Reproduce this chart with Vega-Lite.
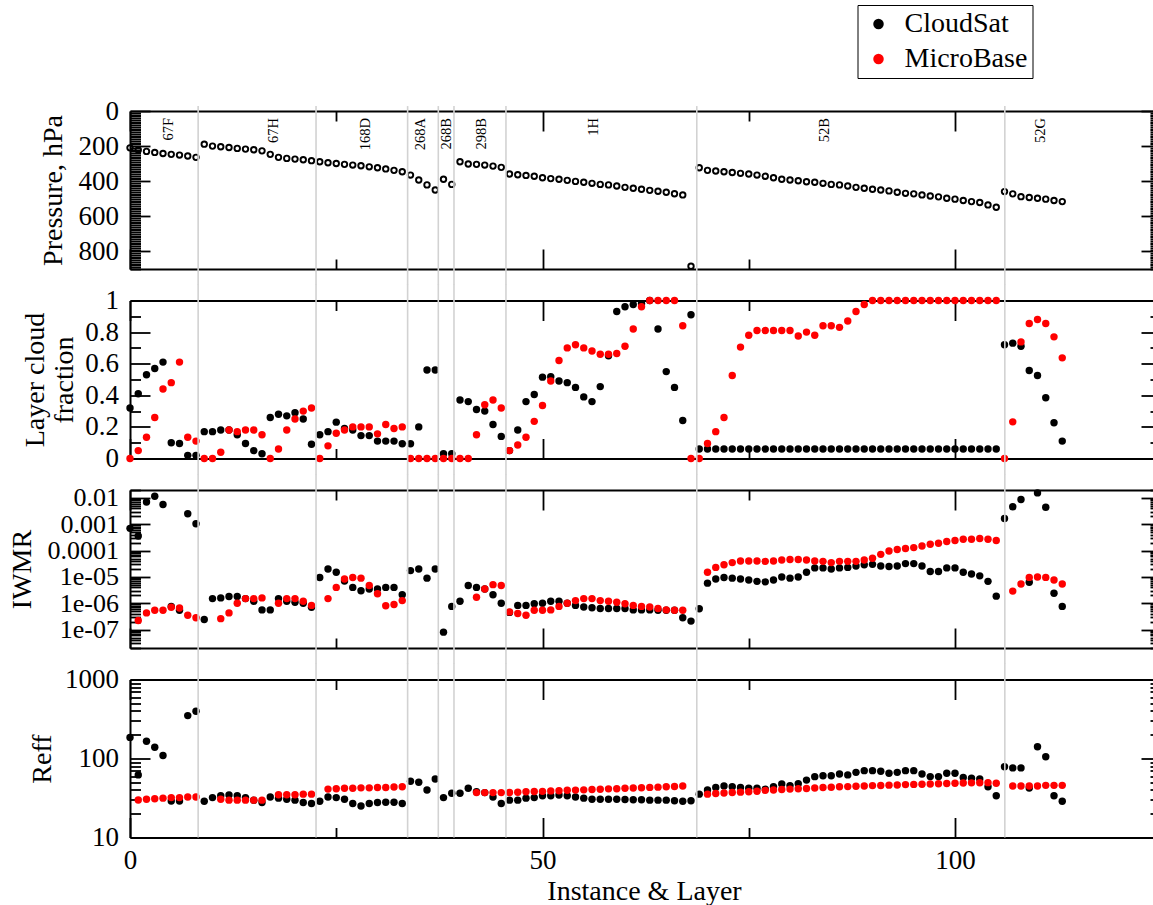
{
  "$schema": "https://vega.github.io/schema/vega-lite/v6.json",
  "padding": {"left": 8, "top": 4, "right": 0, "bottom": 0},
  "background": "white",
  "spacing": 31.5,
  "bounds": "flush",
  "config": {
    "font": "Liberation Serif",
    "view": {"stroke": null},
    "axis": {
      "labelFont": "Liberation Serif", "labelFontSize": 27, "labelColor": "black",
      "titleFont": "Liberation Serif", "titleFontSize": 28, "titleFontWeight": "normal", "titleColor": "black",
      "domain": true, "domainColor": "black", "domainWidth": 2, "tickColor": "black", "tickWidth": 1.8,
      "grid": false, "labelOverlap": false, "labelFlush": false, "labelBound": false
    }
  },
  "datasets": {
    "bounds": [{"b": 8.26}, {"b": 22.55}, {"b": 33.65}, {"b": 37.37}, {"b": 39.27}, {"b": 45.57}, {"b": 68.7}, {"b": 106.04}],
    "segs": [{"seg": "67F", "x": 4.7}, {"seg": "67H", "x": 17.4}, {"seg": "168D", "x": 28.6}, {"seg": "268A", "x": 35.3}, {"seg": "268B", "x": 38.4}, {"seg": "298B", "x": 42.7}, {"seg": "1H", "x": 56.2}, {"seg": "52B", "x": 84.2}, {"seg": "52G", "x": 110.4}],
    "pres": [
      {"x":0,"p":210},{"x":1,"p":222},{"x":2,"p":230},{"x":3,"p":236},{"x":4,"p":242},{"x":5,"p":247},{"x":6,"p":251},{"x":7,"p":256},{"x":8,"p":264},
      {"x":9,"p":189},{"x":10,"p":200},{"x":11,"p":204},{"x":12,"p":208},{"x":13,"p":213},{"x":14,"p":217},{"x":15,"p":221},{"x":16,"p":227},{"x":17,"p":247},{"x":18,"p":264},{"x":19,"p":270},{"x":20,"p":274},{"x":21,"p":278},{"x":22,"p":283},
      {"x":23,"p":289},{"x":24,"p":295},{"x":25,"p":299},{"x":26,"p":304},{"x":27,"p":308},{"x":28,"p":312},{"x":29,"p":318},{"x":30,"p":323},{"x":31,"p":330},{"x":32,"p":338},{"x":33,"p":346},
      {"x":34,"p":365},{"x":35,"p":393},{"x":36,"p":421},{"x":37,"p":450},
      {"x":38,"p":389},{"x":39,"p":418},
      {"x":40,"p":289},{"x":41,"p":302},{"x":42,"p":304},{"x":43,"p":308},{"x":44,"p":314},{"x":45,"p":321},
      {"x":46,"p":359},{"x":47,"p":363},{"x":48,"p":367},{"x":49,"p":372},{"x":50,"p":380},{"x":51,"p":385},{"x":52,"p":389},{"x":53,"p":395},{"x":54,"p":401},{"x":55,"p":406},{"x":56,"p":412},{"x":57,"p":418},{"x":58,"p":421},{"x":59,"p":427},{"x":60,"p":435},{"x":61,"p":440},{"x":62,"p":446},{"x":63,"p":452},{"x":64,"p":457},{"x":65,"p":463},{"x":66,"p":471},{"x":67,"p":478},{"x":68,"p":884},
      {"x":69,"p":323},{"x":70,"p":338},{"x":71,"p":342},{"x":72,"p":346},{"x":73,"p":350},{"x":74,"p":355},{"x":75,"p":359},{"x":76,"p":365},{"x":77,"p":372},{"x":78,"p":380},{"x":79,"p":389},{"x":80,"p":393},{"x":81,"p":397},{"x":82,"p":403},{"x":83,"p":406},{"x":84,"p":412},{"x":85,"p":418},{"x":86,"p":421},{"x":87,"p":427},{"x":88,"p":435},{"x":89,"p":440},{"x":90,"p":446},{"x":91,"p":450},{"x":92,"p":455},{"x":93,"p":463},{"x":94,"p":469},{"x":95,"p":472},{"x":96,"p":478},{"x":97,"p":484},{"x":98,"p":489},{"x":99,"p":497},{"x":100,"p":502},{"x":101,"p":510},{"x":102,"p":516},{"x":103,"p":521},{"x":104,"p":535},{"x":105,"p":548},
      {"x":106,"p":459},{"x":107,"p":472},{"x":108,"p":488},{"x":109,"p":493},{"x":110,"p":497},{"x":111,"p":502},{"x":112,"p":510},{"x":113,"p":516}
    ],
    "frac": [
      {"x":0,"CloudSat":0.32,"MicroBase":0},{"x":1,"CloudSat":0.41,"MicroBase":0.05},{"x":2,"CloudSat":0.53,"MicroBase":0.135},{"x":3,"CloudSat":0.57,"MicroBase":0.26},{"x":4,"CloudSat":0.61,"MicroBase":0.44},{"x":5,"CloudSat":0.10,"MicroBase":0.48},{"x":6,"CloudSat":0.095,"MicroBase":0.61},{"x":7,"CloudSat":0.02,"MicroBase":0.135},{"x":8,"CloudSat":0.02,"MicroBase":0.11},
      {"x":9,"CloudSat":0.17,"MicroBase":0},{"x":10,"CloudSat":0.17,"MicroBase":0},{"x":11,"CloudSat":0.18,"MicroBase":0.04},{"x":12,"CloudSat":0.18,"MicroBase":0.18},{"x":13,"CloudSat":0.15,"MicroBase":0.17},{"x":14,"CloudSat":0.095,"MicroBase":0.18},{"x":15,"CloudSat":0.05,"MicroBase":0.18},{"x":16,"CloudSat":0.03,"MicroBase":0.15},{"x":17,"CloudSat":0.26,"MicroBase":0},{"x":18,"CloudSat":0.28,"MicroBase":0.06},{"x":19,"CloudSat":0.27,"MicroBase":0.18},{"x":20,"CloudSat":0.29,"MicroBase":0.25},{"x":21,"CloudSat":0.25,"MicroBase":0.30},{"x":22,"CloudSat":0.09,"MicroBase":0.32},
      {"x":23,"CloudSat":0.15,"MicroBase":0},{"x":24,"CloudSat":0.17,"MicroBase":0.08},{"x":25,"CloudSat":0.23,"MicroBase":0.16},{"x":26,"CloudSat":0.19,"MicroBase":0.18},{"x":27,"CloudSat":0.18,"MicroBase":0.2},{"x":28,"CloudSat":0.145,"MicroBase":0.2},{"x":29,"CloudSat":0.145,"MicroBase":0.2},{"x":30,"CloudSat":0.11,"MicroBase":0.156},{"x":31,"CloudSat":0.11,"MicroBase":0.215},{"x":32,"CloudSat":0.11,"MicroBase":0.19},{"x":33,"CloudSat":0.093,"MicroBase":0.2},
      {"x":34,"CloudSat":0.093,"MicroBase":0},{"x":35,"CloudSat":0.2,"MicroBase":0},{"x":36,"CloudSat":0.56,"MicroBase":0},{"x":37,"CloudSat":0.56,"MicroBase":0},
      {"x":38,"CloudSat":0.03,"MicroBase":0},{"x":39,"CloudSat":0.03,"MicroBase":0},
      {"x":40,"CloudSat":0.37,"MicroBase":0},{"x":41,"CloudSat":0.36,"MicroBase":0},{"x":42,"CloudSat":0.31,"MicroBase":0.15},{"x":43,"CloudSat":0.30,"MicroBase":0.34},{"x":44,"CloudSat":0.215,"MicroBase":0.37},{"x":45,"CloudSat":0.14,"MicroBase":0.32},
      {"x":46,"CloudSat":0.05,"MicroBase":0.05},{"x":47,"CloudSat":0.18,"MicroBase":0.085},{"x":48,"CloudSat":0.36,"MicroBase":0.135},{"x":49,"CloudSat":0.405,"MicroBase":0.235},{"x":50,"CloudSat":0.515,"MicroBase":0.335},{"x":51,"CloudSat":0.517,"MicroBase":0.49},{"x":52,"CloudSat":0.49,"MicroBase":0.62},{"x":53,"CloudSat":0.48,"MicroBase":0.70},{"x":54,"CloudSat":0.45,"MicroBase":0.72},{"x":55,"CloudSat":0.39,"MicroBase":0.70},{"x":56,"CloudSat":0.36,"MicroBase":0.68},{"x":57,"CloudSat":0.455,"MicroBase":0.66},{"x":58,"CloudSat":0.65,"MicroBase":0.66},{"x":59,"CloudSat":0.93,"MicroBase":0.665},{"x":60,"CloudSat":0.96,"MicroBase":0.71},{"x":61,"CloudSat":0.975,"MicroBase":0.82},{"x":62,"CloudSat":0.98,"MicroBase":0.96},{"x":63,"CloudSat":1.0,"MicroBase":1},{"x":64,"CloudSat":0.82,"MicroBase":1},{"x":65,"CloudSat":0.55,"MicroBase":1},{"x":66,"CloudSat":0.45,"MicroBase":1},{"x":67,"CloudSat":0.24,"MicroBase":0.84},{"x":68,"CloudSat":0.91,"MicroBase":0},
      {"x":69,"CloudSat":0.06,"MicroBase":0},{"x":70,"CloudSat":0.06,"MicroBase":0.095},{"x":71,"CloudSat":0.06,"MicroBase":0.17},{"x":72,"CloudSat":0.06,"MicroBase":0.26},{"x":73,"CloudSat":0.06,"MicroBase":0.525},{"x":74,"CloudSat":0.06,"MicroBase":0.705},{"x":75,"CloudSat":0.06,"MicroBase":0.78},{"x":76,"CloudSat":0.06,"MicroBase":0.81},{"x":77,"CloudSat":0.06,"MicroBase":0.81},{"x":78,"CloudSat":0.06,"MicroBase":0.81},{"x":79,"CloudSat":0.06,"MicroBase":0.81},{"x":80,"CloudSat":0.06,"MicroBase":0.81},{"x":81,"CloudSat":0.06,"MicroBase":0.775},{"x":82,"CloudSat":0.06,"MicroBase":0.80},{"x":83,"CloudSat":0.06,"MicroBase":0.78},{"x":84,"CloudSat":0.06,"MicroBase":0.84},{"x":85,"CloudSat":0.06,"MicroBase":0.84},{"x":86,"CloudSat":0.06,"MicroBase":0.83},{"x":87,"CloudSat":0.06,"MicroBase":0.87},{"x":88,"CloudSat":0.06,"MicroBase":0.93},{"x":89,"CloudSat":0.06,"MicroBase":0.975},{"x":90,"CloudSat":0.06,"MicroBase":1},{"x":91,"CloudSat":0.06,"MicroBase":1},{"x":92,"CloudSat":0.06,"MicroBase":1},{"x":93,"CloudSat":0.06,"MicroBase":1},{"x":94,"CloudSat":0.06,"MicroBase":1},{"x":95,"CloudSat":0.06,"MicroBase":1},{"x":96,"CloudSat":0.06,"MicroBase":1},{"x":97,"CloudSat":0.06,"MicroBase":1},{"x":98,"CloudSat":0.06,"MicroBase":1},{"x":99,"CloudSat":0.06,"MicroBase":1},{"x":100,"CloudSat":0.06,"MicroBase":1},{"x":101,"CloudSat":0.06,"MicroBase":1},{"x":102,"CloudSat":0.06,"MicroBase":1},{"x":103,"CloudSat":0.06,"MicroBase":1},{"x":104,"CloudSat":0.06,"MicroBase":1},{"x":105,"CloudSat":0.06,"MicroBase":1},
      {"x":106,"CloudSat":0.72,"MicroBase":0},{"x":107,"CloudSat":0.73,"MicroBase":0.232},{"x":108,"CloudSat":0.71,"MicroBase":0.738},{"x":109,"CloudSat":0.557,"MicroBase":0.854},{"x":110,"CloudSat":0.525,"MicroBase":0.88},{"x":111,"CloudSat":0.384,"MicroBase":0.854},{"x":112,"CloudSat":0.226,"MicroBase":0.77},{"x":113,"CloudSat":0.11,"MicroBase":0.637}
    ],
    "iwmr": [
      {"x":0,"CloudSat":7e-4,"MicroBase":null},{"x":1,"CloudSat":3.6e-4,"MicroBase":2.2e-7},{"x":2,"CloudSat":7e-3,"MicroBase":4.3e-7},{"x":3,"CloudSat":0.0116,"MicroBase":5.4e-7},{"x":4,"CloudSat":5.6e-3,"MicroBase":5.4e-7},{"x":5,"CloudSat":7.6e-7,"MicroBase":7.1e-7},{"x":6,"CloudSat":5.4e-7,"MicroBase":6.6e-7},{"x":7,"CloudSat":2.5e-3,"MicroBase":3.5e-7},{"x":8,"CloudSat":1.05e-3,"MicroBase":2.8e-7},
      {"x":9,"CloudSat":2.4e-7,"MicroBase":null},{"x":10,"CloudSat":1.5e-6,"MicroBase":null},{"x":11,"CloudSat":1.6e-6,"MicroBase":2.6e-7},{"x":12,"CloudSat":1.8e-6,"MicroBase":4.3e-7},{"x":13,"CloudSat":1.8e-6,"MicroBase":1e-6},{"x":14,"CloudSat":1.5e-6,"MicroBase":1.5e-6},{"x":15,"CloudSat":1.2e-6,"MicroBase":1.5e-6},{"x":16,"CloudSat":5.6e-7,"MicroBase":1.6e-6},{"x":17,"CloudSat":5.6e-7,"MicroBase":null},{"x":18,"CloudSat":1.5e-6,"MicroBase":1e-6},{"x":19,"CloudSat":1.2e-6,"MicroBase":1.5e-6},{"x":20,"CloudSat":1.1e-6,"MicroBase":1.5e-6},{"x":21,"CloudSat":1.0e-6,"MicroBase":1.2e-6},{"x":22,"CloudSat":7e-7,"MicroBase":8.3e-7},
      {"x":23,"CloudSat":9.5e-6,"MicroBase":null},{"x":24,"CloudSat":2e-5,"MicroBase":1.5e-6},{"x":25,"CloudSat":1.5e-5,"MicroBase":4e-6},{"x":26,"CloudSat":7e-6,"MicroBase":8.3e-6},{"x":27,"CloudSat":4e-6,"MicroBase":9.5e-6},{"x":28,"CloudSat":3e-6,"MicroBase":9e-6},{"x":29,"CloudSat":3.5e-6,"MicroBase":4.7e-6},{"x":30,"CloudSat":3.5e-6,"MicroBase":2.3e-6},{"x":31,"CloudSat":4e-6,"MicroBase":8e-7},{"x":32,"CloudSat":4e-6,"MicroBase":9e-7},{"x":33,"CloudSat":2.1e-6,"MicroBase":1.26e-6},
      {"x":34,"CloudSat":1.74e-5,"MicroBase":null},{"x":35,"CloudSat":2e-5,"MicroBase":null},{"x":36,"CloudSat":9e-6,"MicroBase":null},{"x":37,"CloudSat":2e-5,"MicroBase":null},
      {"x":38,"CloudSat":8e-8,"MicroBase":null},{"x":39,"CloudSat":7.6e-7,"MicroBase":null},
      {"x":40,"CloudSat":1.2e-6,"MicroBase":null},{"x":41,"CloudSat":4.7e-6,"MicroBase":null},{"x":42,"CloudSat":4e-6,"MicroBase":1.7e-6},{"x":43,"CloudSat":3.5e-6,"MicroBase":3.5e-6},{"x":44,"CloudSat":2.1e-6,"MicroBase":5.1e-6},{"x":45,"CloudSat":1e-6,"MicroBase":4.7e-6},
      {"x":46,"CloudSat":4.5e-7,"MicroBase":4.7e-7},{"x":47,"CloudSat":8.3e-7,"MicroBase":4.1e-7},{"x":48,"CloudSat":8.3e-7,"MicroBase":3.5e-7},{"x":49,"CloudSat":9.6e-7,"MicroBase":5.4e-7},{"x":50,"CloudSat":1e-6,"MicroBase":5.4e-7},{"x":51,"CloudSat":1.2e-6,"MicroBase":5.6e-7},{"x":52,"CloudSat":1.2e-6,"MicroBase":7.6e-7},{"x":53,"CloudSat":1e-6,"MicroBase":1e-6},{"x":54,"CloudSat":8.3e-7,"MicroBase":1.26e-6},{"x":55,"CloudSat":7.2e-7,"MicroBase":1.5e-6},{"x":56,"CloudSat":6.8e-7,"MicroBase":1.5e-6},{"x":57,"CloudSat":6.3e-7,"MicroBase":1.26e-6},{"x":58,"CloudSat":6.3e-7,"MicroBase":1.2e-6},{"x":59,"CloudSat":6.3e-7,"MicroBase":1.1e-6},{"x":60,"CloudSat":6.3e-7,"MicroBase":9.6e-7},{"x":61,"CloudSat":5.6e-7,"MicroBase":8.3e-7},{"x":62,"CloudSat":5.6e-7,"MicroBase":7.6e-7},{"x":63,"CloudSat":5.6e-7,"MicroBase":7.2e-7},{"x":64,"CloudSat":5.4e-7,"MicroBase":6.3e-7},{"x":65,"CloudSat":5.4e-7,"MicroBase":5.6e-7},{"x":66,"CloudSat":5.4e-7,"MicroBase":5.4e-7},{"x":67,"CloudSat":2.8e-7,"MicroBase":5.4e-7},{"x":68,"CloudSat":2.1e-7,"MicroBase":null},
      {"x":69,"CloudSat":6.2e-7,"MicroBase":null},{"x":70,"CloudSat":5.8e-6,"MicroBase":1.5e-5},{"x":71,"CloudSat":8.3e-6,"MicroBase":2.3e-5},{"x":72,"CloudSat":9.5e-6,"MicroBase":2.9e-5},{"x":73,"CloudSat":9e-6,"MicroBase":3.5e-5},{"x":74,"CloudSat":8.3e-6,"MicroBase":4e-5},{"x":75,"CloudSat":7.6e-6,"MicroBase":4e-5},{"x":76,"CloudSat":6.8e-6,"MicroBase":4e-5},{"x":77,"CloudSat":6.5e-6,"MicroBase":3.9e-5},{"x":78,"CloudSat":7.6e-6,"MicroBase":4e-5},{"x":79,"CloudSat":1e-5,"MicroBase":4.4e-5},{"x":80,"CloudSat":9e-6,"MicroBase":4.6e-5},{"x":81,"CloudSat":1e-5,"MicroBase":4.6e-5},{"x":82,"CloudSat":1.5e-5,"MicroBase":4.4e-5},{"x":83,"CloudSat":2.2e-5,"MicroBase":4e-5},{"x":84,"CloudSat":2.2e-5,"MicroBase":3.9e-5},{"x":85,"CloudSat":2e-5,"MicroBase":3.5e-5},{"x":86,"CloudSat":2.2e-5,"MicroBase":3.9e-5},{"x":87,"CloudSat":2.3e-5,"MicroBase":3.9e-5},{"x":88,"CloudSat":2.6e-5,"MicroBase":3.9e-5},{"x":89,"CloudSat":2.9e-5,"MicroBase":4.4e-5},{"x":90,"CloudSat":3e-5,"MicroBase":5.1e-5},{"x":91,"CloudSat":2.6e-5,"MicroBase":7.2e-5},{"x":92,"CloudSat":2.5e-5,"MicroBase":9.7e-5},{"x":93,"CloudSat":2.6e-5,"MicroBase":1.1e-4},{"x":94,"CloudSat":3.2e-5,"MicroBase":1.2e-4},{"x":95,"CloudSat":3.2e-5,"MicroBase":1.3e-4},{"x":96,"CloudSat":2.6e-5,"MicroBase":1.5e-4},{"x":97,"CloudSat":1.6e-5,"MicroBase":1.75e-4},{"x":98,"CloudSat":1.6e-5,"MicroBase":1.9e-4},{"x":99,"CloudSat":2.2e-5,"MicroBase":2.2e-4},{"x":100,"CloudSat":2.2e-5,"MicroBase":2.4e-4},{"x":101,"CloudSat":1.5e-5,"MicroBase":2.7e-4},{"x":102,"CloudSat":1.3e-5,"MicroBase":2.7e-4},{"x":103,"CloudSat":1.1e-5,"MicroBase":2.9e-4},{"x":104,"CloudSat":6.8e-6,"MicroBase":2.7e-4},{"x":105,"CloudSat":1.86e-6,"MicroBase":2.4e-4},
      {"x":106,"CloudSat":1.66e-3,"MicroBase":null},{"x":107,"CloudSat":4.6e-3,"MicroBase":2.9e-6},{"x":108,"CloudSat":8.7e-3,"MicroBase":5.4e-6},{"x":109,"CloudSat":6.3e-6,"MicroBase":9.6e-6},{"x":110,"CloudSat":0.0155,"MicroBase":1e-5},{"x":111,"CloudSat":4.4e-3,"MicroBase":9.6e-6},{"x":112,"CloudSat":2.4e-6,"MicroBase":7.6e-6},{"x":113,"CloudSat":7.6e-7,"MicroBase":5.4e-6}
    ],
    "reff": [
      {"x":0,"CloudSat":185,"MicroBase":null},{"x":1,"CloudSat":62,"MicroBase":29.8},{"x":2,"CloudSat":165,"MicroBase":30.5},{"x":3,"CloudSat":139,"MicroBase":31},{"x":4,"CloudSat":109,"MicroBase":31.5},{"x":5,"CloudSat":29,"MicroBase":32},{"x":6,"CloudSat":29,"MicroBase":32},{"x":7,"CloudSat":349,"MicroBase":32.6},{"x":8,"CloudSat":396,"MicroBase":32.6},
      {"x":9,"CloudSat":28.7,"MicroBase":null},{"x":10,"CloudSat":32,"MicroBase":null},{"x":11,"CloudSat":33.8,"MicroBase":30.5},{"x":12,"CloudSat":34.5,"MicroBase":29.7},{"x":13,"CloudSat":33.8,"MicroBase":29.7},{"x":14,"CloudSat":32,"MicroBase":29.7},{"x":15,"CloudSat":29.7,"MicroBase":29.7},{"x":16,"CloudSat":27.8,"MicroBase":29.7},{"x":17,"CloudSat":32.6,"MicroBase":null},{"x":18,"CloudSat":31.5,"MicroBase":34.7},{"x":19,"CloudSat":30.5,"MicroBase":34.7},{"x":20,"CloudSat":29.7,"MicroBase":34.7},{"x":21,"CloudSat":27.8,"MicroBase":35.4},{"x":22,"CloudSat":27,"MicroBase":35.4},
      {"x":23,"CloudSat":28.7,"MicroBase":null},{"x":24,"CloudSat":32.6,"MicroBase":41},{"x":25,"CloudSat":32,"MicroBase":41.5},{"x":26,"CloudSat":30.5,"MicroBase":42},{"x":27,"CloudSat":27,"MicroBase":42},{"x":28,"CloudSat":25,"MicroBase":42.5},{"x":29,"CloudSat":27,"MicroBase":42.5},{"x":30,"CloudSat":27.8,"MicroBase":43},{"x":31,"CloudSat":28,"MicroBase":43},{"x":32,"CloudSat":28,"MicroBase":43.5},{"x":33,"CloudSat":27,"MicroBase":44},
      {"x":34,"CloudSat":51.5,"MicroBase":null},{"x":35,"CloudSat":50,"MicroBase":null},{"x":36,"CloudSat":40,"MicroBase":null},{"x":37,"CloudSat":55,"MicroBase":null},
      {"x":38,"CloudSat":32,"MicroBase":null},{"x":39,"CloudSat":36.4,"MicroBase":null},
      {"x":40,"CloudSat":36.4,"MicroBase":null},{"x":41,"CloudSat":42,"MicroBase":null},{"x":42,"CloudSat":38,"MicroBase":37},{"x":43,"CloudSat":37,"MicroBase":37},{"x":44,"CloudSat":32.6,"MicroBase":37},{"x":45,"CloudSat":27,"MicroBase":37},
      {"x":46,"CloudSat":29.7,"MicroBase":37.2},{"x":47,"CloudSat":29.7,"MicroBase":37.4},{"x":48,"CloudSat":31.5,"MicroBase":37.9},{"x":49,"CloudSat":32,"MicroBase":38.2},{"x":50,"CloudSat":33.8,"MicroBase":38.4},{"x":51,"CloudSat":33.8,"MicroBase":38.9},{"x":52,"CloudSat":34.5,"MicroBase":39.1},{"x":53,"CloudSat":33.8,"MicroBase":39.6},{"x":54,"CloudSat":32.6,"MicroBase":39.8},{"x":55,"CloudSat":31.5,"MicroBase":40.1},{"x":56,"CloudSat":30.5,"MicroBase":40.6},{"x":57,"CloudSat":30.5,"MicroBase":40.8},{"x":58,"CloudSat":30.5,"MicroBase":41.3},{"x":59,"CloudSat":30.5,"MicroBase":41.5},{"x":60,"CloudSat":30.2,"MicroBase":42.0},{"x":61,"CloudSat":30,"MicroBase":42.4},{"x":62,"CloudSat":30,"MicroBase":42.6},{"x":63,"CloudSat":29.7,"MicroBase":43.1},{"x":64,"CloudSat":29.7,"MicroBase":43.4},{"x":65,"CloudSat":29.7,"MicroBase":43.9},{"x":66,"CloudSat":29.2,"MicroBase":44.2},{"x":67,"CloudSat":28.7,"MicroBase":44.8},{"x":68,"CloudSat":29.2,"MicroBase":null},
      {"x":69,"CloudSat":35.4,"MicroBase":null},{"x":70,"CloudSat":40,"MicroBase":35.4},{"x":71,"CloudSat":43,"MicroBase":36},{"x":72,"CloudSat":45,"MicroBase":36.5},{"x":73,"CloudSat":44,"MicroBase":37.2},{"x":74,"CloudSat":43,"MicroBase":37.5},{"x":75,"CloudSat":42,"MicroBase":38},{"x":76,"CloudSat":42,"MicroBase":38.5},{"x":77,"CloudSat":41,"MicroBase":39.5},{"x":78,"CloudSat":44,"MicroBase":40},{"x":79,"CloudSat":47.5,"MicroBase":40.5},{"x":80,"CloudSat":45.4,"MicroBase":41},{"x":81,"CloudSat":48,"MicroBase":41.5},{"x":82,"CloudSat":53.3,"MicroBase":41.8},{"x":83,"CloudSat":58.9,"MicroBase":42.3},{"x":84,"CloudSat":60.4,"MicroBase":43},{"x":85,"CloudSat":60.4,"MicroBase":43.3},{"x":86,"CloudSat":63.5,"MicroBase":43.8},{"x":87,"CloudSat":62,"MicroBase":44.1},{"x":88,"CloudSat":66.8,"MicroBase":44.6},{"x":89,"CloudSat":70.2,"MicroBase":44.9},{"x":90,"CloudSat":70.2,"MicroBase":45.4},{"x":91,"CloudSat":69,"MicroBase":45.6},{"x":92,"CloudSat":65,"MicroBase":46},{"x":93,"CloudSat":66.8,"MicroBase":46.3},{"x":94,"CloudSat":70.2,"MicroBase":46.7},{"x":95,"CloudSat":70.2,"MicroBase":47},{"x":96,"CloudSat":63.5,"MicroBase":47.3},{"x":97,"CloudSat":59,"MicroBase":47.6},{"x":98,"CloudSat":59,"MicroBase":47.9},{"x":99,"CloudSat":65,"MicroBase":48.3},{"x":100,"CloudSat":65,"MicroBase":48.6},{"x":101,"CloudSat":57.4,"MicroBase":48.9},{"x":102,"CloudSat":56.4,"MicroBase":49.2},{"x":103,"CloudSat":55,"MicroBase":49.3},{"x":104,"CloudSat":44,"MicroBase":49.5},{"x":105,"CloudSat":33.8,"MicroBase":48.5},
      {"x":106,"CloudSat":78.7,"MicroBase":null},{"x":107,"CloudSat":76,"MicroBase":44.8},{"x":108,"CloudSat":76,"MicroBase":44.8},{"x":109,"CloudSat":42.3,"MicroBase":44.8},{"x":110,"CloudSat":141,"MicroBase":44.8},{"x":111,"CloudSat":105,"MicroBase":45.7},{"x":112,"CloudSat":33.8,"MicroBase":45.7},{"x":113,"CloudSat":28.7,"MicroBase":45.7}
    ]
  },
  "vconcat": [
    {
      "width": 1023, "height": 158,
      "layer": [
        {
          "data": {"name": "pres"},
          "mark": {"type": "point", "filled": false, "stroke": "black", "strokeWidth": 1.9, "size": 30, "opacity": 1},
          "encoding": {
            "x": {"field": "x", "type": "quantitative", "scale": {"domain": [0, 124], "nice": false, "zero": false},
                  "axis": {"orient": "bottom", "values": [0, 25, 50, 75, 100], "labels": false, "title": null,
                           "tickSize": {"condition": {"test": "datum.value % 50 === 0", "value": -20}, "value": -10}}},
            "y": {"field": "p", "type": "quantitative", "scale": {"domain": [0, 900], "reverse": true, "nice": false, "zero": false},
                  "axis": {"orient": "left", "values": [0,10,20,30,40,50,60,70,80,90,100,110,120,130,140,150,160,170,180,190,200,210,220,230,240,250,260,270,280,290,300,310,320,330,340,350,360,370,380,390,400,410,420,430,440,450,460,470,480,490,500,510,520,530,540,550,560,570,580,590,600,610,620,630,640,650,660,670,680,690,700,710,720,730,740,750,760,770,780,790,800,810,820,830,840,850,860,870,880,890,900],
                           "labelExpr": "datum.value % 200 === 0 ? datum.label : ''", "labelPadding": 31.5,
                           "tickSize": {"condition": {"test": "datum.value % 200 === 0", "value": -20}, "value": -10.5},
                           "title": "Pressure, hPa", "titleX": -76.5, "titleY": 79, "titleAngle": 270, "titleBaseline": "middle"}}
          }
        },
        {
          "data": {"name": "pres"},
          "mark": {"type": "point", "opacity": 0},
          "encoding": {
            "x": {"field": "x", "type": "quantitative", "scale": {"domain": [0, 124], "nice": false, "zero": false},
                  "axis": {"orient": "top", "values": [0, 25, 50, 75, 100], "labels": false, "title": null,
                           "tickSize": {"condition": {"test": "datum.value % 50 === 0", "value": -20}, "value": -10}}},
            "y": {"field": "p", "type": "quantitative", "scale": {"domain": [0, 900], "reverse": true, "nice": false, "zero": false},
                  "axis": {"orient": "right", "domain": false, "labels": false, "title": null, "values": [0,10,20,30,40,50,60,70,80,90,100,110,120,130,140,150,160,170,180,190,200,210,220,230,240,250,260,270,280,290,300,310,320,330,340,350,360,370,380,390,400,410,420,430,440,450,460,470,480,490,500,510,520,530,540,550,560,570,580,590,600,610,620,630,640,650,660,670,680,690,700,710,720,730,740,750,760,770,780,790,800,810,820,830,840,850,860,870,880,890,900],
                           "tickSize": {"condition": {"test": "datum.value % 200 === 0", "value": -12}, "value": -3}}}
          }
        },
        {
          "data": {"name": "segs"},
          "mark": {"type": "text", "angle": 270, "align": "right", "baseline": "middle", "font": "Liberation Serif", "fontSize": 14.5, "color": "black"},
          "encoding": {
            "x": {"field": "x", "type": "quantitative", "axis": null},
            "y": {"datum": 40, "type": "quantitative", "axis": null},
            "text": {"field": "seg"}
          }
        },
        {
          "data": {"name": "bounds"},
          "mark": {"type": "rule", "color": "#d2d2d2", "strokeWidth": 1.6},
          "encoding": {
            "x": {"field": "b", "type": "quantitative", "axis": null},
            "y": {"datum": -28, "type": "quantitative", "axis": null},
            "y2": {"datum": 991}
          }
        }
      ],
      "resolve": {"axis": {"x": "independent", "y": "independent"}}
    },
    {
      "width": 1023, "height": 158,
      "layer": [
        {
          "data": {"name": "frac"},
          "transform": [{"fold": ["CloudSat", "MicroBase"], "as": ["src", "v"]}],
          "mark": {"type": "point", "filled": true, "size": 55, "opacity": 1, "strokeWidth": 0},
          "encoding": {
            "x": {"field": "x", "type": "quantitative", "scale": {"domain": [0, 124], "nice": false, "zero": false},
                  "axis": {"orient": "bottom", "values": [0, 25, 50, 75, 100], "labels": false, "title": null,
                           "tickSize": {"condition": {"test": "datum.value % 50 === 0", "value": -20}, "value": -10}}},
            "y": {"field": "v", "type": "quantitative", "scale": {"domain": [0, 1], "nice": false, "zero": false},
                  "axis": {"orient": "left", "values": [0,0.1,0.2,0.3,0.4,0.5,0.6,0.7,0.8,0.9,1],
                           "labelExpr": "abs(datum.value*5 - round(datum.value*5)) < 0.000001 ? format(datum.value, '~g') : ''", "labelPadding": 31.5,
                           "tickSize": {"condition": {"test": "abs(datum.value*5 - round(datum.value*5)) < 0.000001", "value": -20}, "value": -10.5},
                           "title": ["Layer cloud", "fraction"], "titleLineHeight": 29, "titleX": -94.5, "titleY": 79, "titleAngle": 270, "titleBaseline": "middle"}},
            "color": {"field": "src", "type": "nominal", "scale": {"domain": ["CloudSat", "MicroBase"], "range": ["#000000", "#ff0000"]},
                      "legend": {"orient": "none", "legendX": 727.5, "legendY": -106, "title": null, "symbolType": "circle", "symbolSize": 110, "symbolStrokeWidth": 0, "symbolOpacity": 1,
                                 "labelFont": "Liberation Serif", "labelFontSize": 28, "labelColor": "black", "strokeColor": "black", "fillColor": "white",
                                 "padding": 5, "rowPadding": 7, "labelOffset": 12, "symbolOffset": 2}}
          }
        },
        {
          "data": {"name": "frac"},
          "mark": {"type": "point", "opacity": 0},
          "encoding": {
            "x": {"field": "x", "type": "quantitative", "scale": {"domain": [0, 124], "nice": false, "zero": false},
                  "axis": {"orient": "top", "values": [0, 25, 50, 75, 100], "labels": false, "title": null,
                           "tickSize": {"condition": {"test": "datum.value % 50 === 0", "value": -20}, "value": -10}}},
            "y": {"field": "CloudSat", "type": "quantitative", "scale": {"domain": [0, 1], "nice": false, "zero": false},
                  "axis": {"orient": "right", "domain": false, "labels": false, "title": null, "values": [0,0.1,0.2,0.3,0.4,0.5,0.6,0.7,0.8,0.9,1],
                           "tickSize": {"condition": {"test": "abs(datum.value*5 - round(datum.value*5)) < 0.000001", "value": -12}, "value": -3}}}
          }
        },
        {
          "data": {"name": "bounds"},
          "mark": {"type": "rule", "color": "#d2d2d2", "strokeWidth": 1.6},
          "encoding": {
            "x": {"field": "b", "type": "quantitative", "axis": null},
            "y": {"datum": -0.101, "type": "quantitative", "axis": null},
            "y2": {"datum": 1.101}
          }
        }
      ],
      "resolve": {"axis": {"x": "independent", "y": "independent"}}
    },
    {
      "width": 1023, "height": 158,
      "layer": [
        {
          "data": {"name": "iwmr"},
          "transform": [{"fold": ["CloudSat", "MicroBase"], "as": ["src", "v"]}, {"filter": "datum.v != null"}],
          "mark": {"type": "point", "filled": true, "size": 55, "opacity": 1, "strokeWidth": 0},
          "encoding": {
            "x": {"field": "x", "type": "quantitative", "scale": {"domain": [0, 124], "nice": false, "zero": false},
                  "axis": {"orient": "bottom", "values": [0, 25, 50, 75, 100], "labels": false, "title": null,
                           "tickSize": {"condition": {"test": "datum.value % 50 === 0", "value": -20}, "value": -10}}},
            "y": {"field": "v", "type": "quantitative", "scale": {"type": "log", "domain": [2e-8, 0.02], "nice": false},
                  "axis": {"orient": "left", "values": [2e-8,3e-8,4e-8,5e-8,6e-8,7e-8,8e-8,9e-8,1e-7,2e-7,3e-7,4e-7,5e-7,6e-7,7e-7,8e-7,9e-7,1e-6,2e-6,3e-6,4e-6,5e-6,6e-6,7e-6,8e-6,9e-6,1e-5,2e-5,3e-5,4e-5,5e-5,6e-5,7e-5,8e-5,9e-5,0.0001,0.0002,0.0003,0.0004,0.0005,0.0006,0.0007,0.0008,0.0009,0.001,0.002,0.003,0.004,0.005,0.006,0.007,0.008,0.009,0.01,0.02],
                           "labelExpr": "datum.value == 0.01 ? '0.01' : datum.value == 0.001 ? '0.001' : datum.value == 0.0001 ? '0.0001' : datum.value == 0.00001 ? '1e-05' : datum.value == 0.000001 ? '1e-06' : datum.value == 0.0000001 ? '1e-07' : ''",
                           "labelPadding": 31.5, "labelFontSize": 26,
                           "tickSize": {"condition": {"test": "abs(log(datum.value)/LN10 - round(log(datum.value)/LN10)) < 0.000001", "value": -20}, "value": -10.5},
                           "title": "IWMR", "titleX": -107.5, "titleY": 79, "titleAngle": 270, "titleBaseline": "middle"}},
            "color": {"field": "src", "type": "nominal", "scale": {"domain": ["CloudSat", "MicroBase"], "range": ["#000000", "#ff0000"]},
                      "legend": {"orient": "none", "legendX": 727.5, "legendY": -106, "title": null, "symbolType": "circle", "symbolSize": 110, "symbolStrokeWidth": 0, "symbolOpacity": 1,
                                 "labelFont": "Liberation Serif", "labelFontSize": 28, "labelColor": "black", "strokeColor": "black", "fillColor": "white",
                                 "padding": 5, "rowPadding": 7, "labelOffset": 12, "symbolOffset": 2}}
          }
        },
        {
          "data": {"name": "iwmr"},
          "mark": {"type": "point", "opacity": 0},
          "encoding": {
            "x": {"field": "x", "type": "quantitative", "scale": {"domain": [0, 124], "nice": false, "zero": false},
                  "axis": {"orient": "top", "values": [0, 25, 50, 75, 100], "labels": false, "title": null,
                           "tickSize": {"condition": {"test": "datum.value % 50 === 0", "value": -20}, "value": -10}}},
            "y": {"field": "CloudSat", "type": "quantitative", "scale": {"type": "log", "domain": [2e-8, 0.02], "nice": false},
                  "axis": {"orient": "right", "domain": false, "labels": false, "title": null, "values": [2e-8,3e-8,4e-8,5e-8,6e-8,7e-8,8e-8,9e-8,1e-7,2e-7,3e-7,4e-7,5e-7,6e-7,7e-7,8e-7,9e-7,1e-6,2e-6,3e-6,4e-6,5e-6,6e-6,7e-6,8e-6,9e-6,1e-5,2e-5,3e-5,4e-5,5e-5,6e-5,7e-5,8e-5,9e-5,0.0001,0.0002,0.0003,0.0004,0.0005,0.0006,0.0007,0.0008,0.0009,0.001,0.002,0.003,0.004,0.005,0.006,0.007,0.008,0.009,0.01,0.02],
                           "tickSize": {"condition": {"test": "abs(log(datum.value)/LN10 - round(log(datum.value)/LN10)) < 0.000001", "value": -12}, "value": -3}}}
          }
        },
        {
          "data": {"name": "bounds"},
          "mark": {"type": "rule", "color": "#d2d2d2", "strokeWidth": 1.6},
          "encoding": {
            "x": {"field": "b", "type": "quantitative", "axis": null},
            "y": {"datum": 4.9e-9, "type": "quantitative", "axis": null},
            "y2": {"datum": 0.081}
          }
        }
      ],
      "resolve": {"axis": {"x": "independent", "y": "independent"}}
    },
    {
      "width": 1023, "height": 158,
      "layer": [
        {
          "data": {"name": "reff"},
          "transform": [{"fold": ["CloudSat", "MicroBase"], "as": ["src", "v"]}, {"filter": "datum.v != null"}],
          "mark": {"type": "point", "filled": true, "size": 55, "opacity": 1, "strokeWidth": 0},
          "encoding": {
            "x": {"field": "x", "type": "quantitative", "scale": {"domain": [0, 124], "nice": false, "zero": false},
                  "axis": {"orient": "bottom", "values": [0, 25, 50, 75, 100],
                           "labelExpr": "datum.value % 50 === 0 ? datum.label : ''", "labelPadding": 30,
                           "tickSize": {"condition": {"test": "datum.value % 50 === 0", "value": -20}, "value": -10},
                           "title": "Instance & Layer", "titleX": 514, "titleY": 61.5, "titleBaseline": "alphabetic"}},
            "y": {"field": "v", "type": "quantitative", "scale": {"type": "log", "domain": [10, 1000], "nice": false},
                  "axis": {"orient": "left", "values": [10,20,30,40,50,60,70,80,90,100,200,300,400,500,600,700,800,900,1000],
                           "labelExpr": "datum.value == 10 || datum.value == 100 || datum.value == 1000 ? '' + datum.value : ''",
                           "labelPadding": 31.5,
                           "tickSize": {"condition": {"test": "datum.value == 10 || datum.value == 100 || datum.value == 1000", "value": -20}, "value": -10.5},
                           "title": "Reff", "titleX": -87.5, "titleY": 79, "titleAngle": 270, "titleBaseline": "middle"}},
            "color": {"field": "src", "type": "nominal", "scale": {"domain": ["CloudSat", "MicroBase"], "range": ["#000000", "#ff0000"]},
                      "legend": {"orient": "none", "legendX": 727.5, "legendY": -106, "title": null, "symbolType": "circle", "symbolSize": 110, "symbolStrokeWidth": 0, "symbolOpacity": 1,
                                 "labelFont": "Liberation Serif", "labelFontSize": 28, "labelColor": "black", "strokeColor": "black", "fillColor": "white",
                                 "padding": 5, "rowPadding": 7, "labelOffset": 12, "symbolOffset": 2}}
          }
        },
        {
          "data": {"name": "reff"},
          "mark": {"type": "point", "opacity": 0},
          "encoding": {
            "x": {"field": "x", "type": "quantitative", "scale": {"domain": [0, 124], "nice": false, "zero": false},
                  "axis": {"orient": "top", "values": [0, 25, 50, 75, 100], "labels": false, "title": null,
                           "tickSize": {"condition": {"test": "datum.value % 50 === 0", "value": -20}, "value": -10}}},
            "y": {"field": "CloudSat", "type": "quantitative", "scale": {"type": "log", "domain": [10, 1000], "nice": false},
                  "axis": {"orient": "right", "domain": false, "labels": false, "title": null, "values": [10,20,30,40,50,60,70,80,90,100,200,300,400,500,600,700,800,900,1000],
                           "tickSize": {"condition": {"test": "datum.value == 10 || datum.value == 100 || datum.value == 1000", "value": -12}, "value": -3}}}
          }
        },
        {
          "data": {"name": "bounds"},
          "mark": {"type": "rule", "color": "#d2d2d2", "strokeWidth": 1.6},
          "encoding": {
            "x": {"field": "b", "type": "quantitative", "axis": null},
            "y": {"datum": 10, "type": "quantitative", "axis": null},
            "y2": {"datum": 1594}
          }
        }
      ],
      "resolve": {"axis": {"x": "independent", "y": "independent"}}
    }
  ]
}
